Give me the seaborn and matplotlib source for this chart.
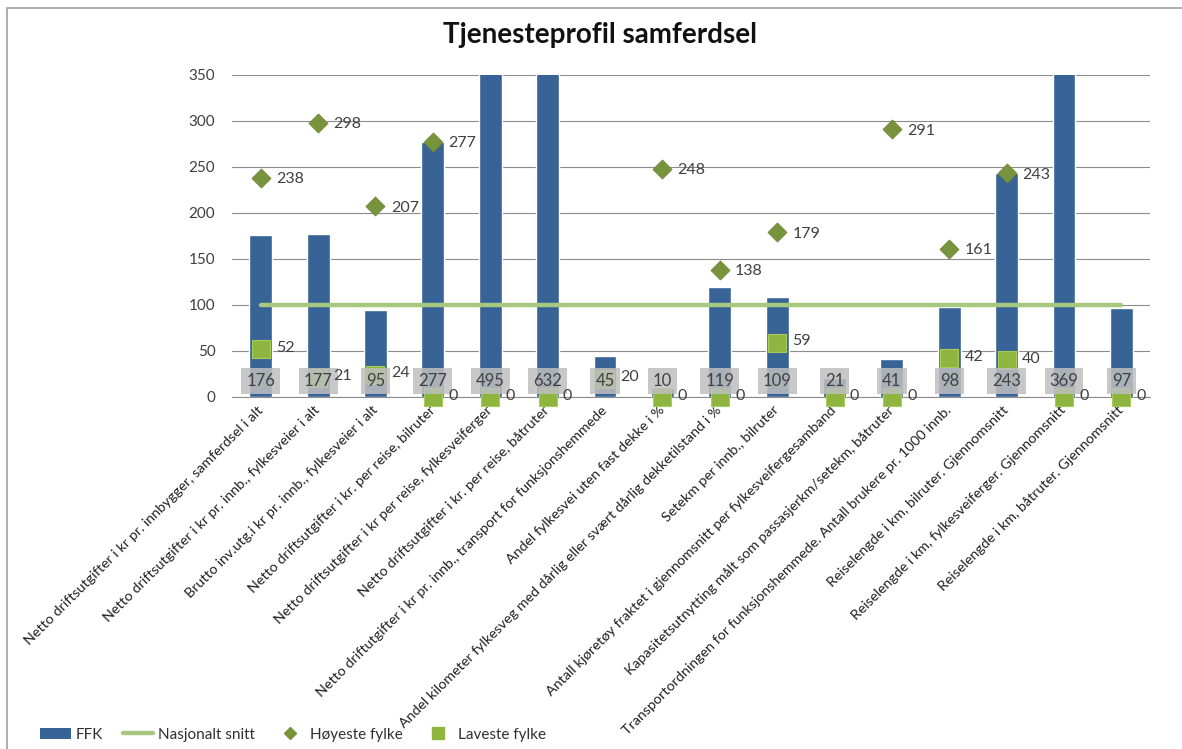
import numpy as np
import pandas as pd
import seaborn as sns
import matplotlib.pyplot as plt
from matplotlib.lines import Line2D
from matplotlib.patches import Patch, Rectangle

sns.set_style('white')
plt.rcParams['font.family'] = ['Lato', 'DejaVu Sans']

# data
categories = [
    'Netto driftsutgifter i kr pr. innbygger, samferdsel i alt',
    'Netto driftsutgifter i kr pr. innb., fylkesveier i alt',
    'Brutto inv.utg.i kr pr. innb., fylkesveier i alt',
    'Netto driftsutgifter i kr. per reise, bilruter',
    'Netto driftsutgifter i kr per reise, fylkesveiferger',
    'Netto driftsutgifter i kr. per reise, båtruter',
    'Netto driftutgifter i kr pr. innb., transport for funksjonshemmede',
    'Andel fylkesvei uten fast dekke i %',
    'Andel kilometer fylkesveg med dårlig eller svært dårlig dekketilstand i %',
    'Setekm per innb., bilruter',
    'Antall kjøretøy fraktet i gjennomsnitt per fylkesveifergesamband',
    'Kapasitetsutnytting målt som passasjerkm/setekm, båtruter',
    'Transportordningen for funksjonshemmede. Antall brukere pr. 1000 innb.',
    'Reiselengde i km, bilruter. Gjennomsnitt',
    'Reiselengde i km, fylkesveiferger. Gjennomsnitt',
    'Reiselengde i km, båtruter. Gjennomsnitt',
]
ffk = [176, 177, 95, 277, 495, 632, 45, 10, 119, 109, 21, 41, 98, 243, 369, 97]
nasjonalt = [100] * 16
hoyeste = [238, 298, 207, 277, np.nan, np.nan, np.nan, 248, 138, 179, np.nan, 291, 161, 243, np.nan, np.nan]
laveste = [52, 21, 24, 0, 0, 0, 20, 0, 0, 59, 0, 0, 42, 40, 0, 0]

c_bar = '#386396'
c_line = '#A7C97F'
c_dia = '#77933C'
c_sq = '#8DB53F'

idx = np.arange(len(categories))
df = pd.DataFrame({'kat': categories, 'ffk': ffk, 'x': idx,
                   'nasj': nasjonalt, 'hoy': hoyeste, 'lav': laveste})

fig = plt.figure(figsize=(11.82, 7.49), dpi=100)
ax = fig.add_axes([0.1963, 0.470, 0.7767, 0.430])

sns.barplot(data=df, x='kat', y='ffk', color=c_bar, width=0.4, saturation=1, ax=ax, zorder=2)
sns.lineplot(data=df, x='x', y='nasj', color=c_line, linewidth=3.2, ax=ax, zorder=3)
sns.scatterplot(data=df, x='x', y='hoy', marker='D', s=95, color=c_dia, edgecolor='#6a8535',
                linewidth=0.5, ax=ax, zorder=4, clip_on=False)
sns.scatterplot(data=df, x='x', y='lav', marker='s', s=160, color=c_sq, edgecolor='#a8cc5c',
                linewidth=0.8, ax=ax, zorder=5, clip_on=False)

ax.set_ylim(0, 350)
ax.set_xlim(-0.5, len(categories) - 0.5)
ax.set_yticks(range(0, 351, 50))
ax.yaxis.grid(True, color='#8c8c8c', linewidth=0.8)
ax.set_axisbelow(True)
for s in ['top', 'right', 'left']:
    ax.spines[s].set_visible(False)
ax.spines['bottom'].set_color('#8c8c8c')
ax.set_xlabel('')
ax.set_ylabel('')
ax.tick_params(axis='y', labelsize=11, labelcolor='#404040', pad=12, length=0)
ax.tick_params(axis='x', length=0, pad=8)
ax.set_xticks(idx)
ax.set_xticklabels(categories, rotation=45, ha='right', va='center', rotation_mode='anchor',
                   fontsize=10.3, color='#202020')

# value labels
for i in idx:
    ax.annotate(str(ffk[i]), (i, 0), xytext=(0, 11.5), textcoords='offset points',
                ha='center', va='center', fontsize=12, color='#404040', zorder=6,
                bbox=dict(boxstyle='square,pad=0.3', facecolor='#bfbfbf', alpha=0.85, edgecolor='none'))
    if not np.isnan(hoyeste[i]):
        ax.annotate(str(int(hoyeste[i])), (i, hoyeste[i]), xytext=(11, -1), textcoords='offset points',
                    ha='left', va='center', fontsize=11.5, color='#404040', zorder=6)
    ax.annotate(str(laveste[i]), (i, laveste[i]), xytext=(11, 1), textcoords='offset points',
                ha='left', va='center', fontsize=11.5, color='#404040', zorder=6, annotation_clip=False)

fig.text(0.508, 0.953, 'Tjenesteprofil samferdsel', ha='center', va='center',
         fontsize=20, fontweight='bold', color='#111111')

handles = [
    Patch(facecolor=c_bar, edgecolor='none'),
    Line2D([], [], color=c_line, linewidth=3.2),
    Line2D([], [], marker='D', color=c_dia, linestyle='none', markersize=6),
    Line2D([], [], marker='s', color=c_sq, linestyle='none', markersize=8),
]
labels = ['FFK', 'Nasjonalt snitt', 'Høyeste fylke', 'Laveste fylke']
fig.legend(handles, labels, loc='center left', bbox_to_anchor=(0.029, 0.019), ncol=4, frameon=False,
           borderaxespad=0, fontsize=11, handlelength=2.0, handletextpad=0.3, columnspacing=1.3,
           labelcolor='#303030')

# chart frame
fig.add_artist(Rectangle((0.006, -0.01), 1.1, 0.9995, transform=fig.transFigure,
                         fill=False, edgecolor='#a0a0a0', linewidth=1.2))

fig.savefig('out.png', dpi=100)
